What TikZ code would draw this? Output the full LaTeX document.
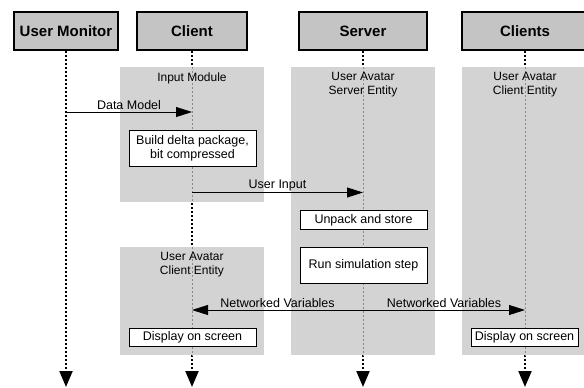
\documentclass[tikz,border=0pt]{standalone}
\usepackage{fontspec}
\setmainfont{Liberation Sans}
\usetikzlibrary{arrows.meta,positioning}
\definecolor{headgray}{HTML}{C4C4C4}
\definecolor{zonegray}{HTML}{D3D3D3}
\definecolor{dotgray} {HTML}{8A8A8A}

\begin{document}
\begin{tikzpicture}[
  head/.style  ={draw,line width=1.8pt,fill=headgray,minimum height=38pt,
                 inner sep=0pt,font=\fontsize{15}{18}\selectfont\bfseries},
  zone/.style  ={fill=zonegray,inner sep=0pt},
  ztxt/.style  ={anchor=north,yshift=-2pt,align=center,
                 font=\fontsize{12}{13.5}\selectfont},
  act/.style   ={draw,fill=white,line width=0.7pt,align=center,inner sep=1pt,
                 font=\fontsize{12.5}{14}\selectfont},
  life/.style  ={line width=2pt,dash pattern=on 2pt off 2pt,
                 -{Triangle[width=13pt,length=16pt]}},
  lifein/.style={dotgray,line width=1pt,dash pattern=on 2pt off 2pt},
  msg/.style   ={line width=0.8pt,-{Triangle[width=10pt,length=16pt]}},
  mlbl/.style  ={above,inner sep=1.5pt,font=\fontsize{12.5}{14}\selectfont},
  x=1pt, y=-1pt
]
\useasboundingbox (0,0) rectangle (584,388);

%% lifeline heads (x = 66 / 192 / 363 / 525)
\node[head,minimum width=104pt] (um) at (66, 31)  {User Monitor};
\node[head,minimum width=110pt] (cl) at (192,31)  {Client};
\node[head,minimum width=128pt] (sv) at (363,31)  {Server};
\node[head,minimum width=126pt] (cs) at (525,31)  {Clients};

%% lifeline ends
\coordinate (umE) at (66, 387);
\coordinate (clE) at (192,387);
\coordinate (svE) at (363,387);
\coordinate (csE) at (525,387);

\draw[life] (um.south) -- (umE);
\draw[life] (cl.south) -- (clE);
\draw[life] (sv.south) -- (svE);
\draw[life] (cs.south) -- (csE);

%% gray zones
\node[zone,minimum width=144pt,minimum height=135pt] (inmod) at (192,134.5)
  {};
\node[zone,minimum width=144pt,minimum height=108pt] (avcl)  at (192,301)
  {};
\node[zone,minimum width=144pt,minimum height=288pt] (avsv)  at (363,211)
  {};
\node[zone,minimum width=126pt,minimum height=288pt] (avcs)  at (525,211)
  {};

\foreach \z in {inmod,avcl,avsv,avcs}
  \draw[lifein] (\z.north) -- (\z.south);

\node[ztxt] at (inmod.north) {Input Module};
\node[ztxt] at (avcl.north)  {User Avatar\\Client Entity};
\node[ztxt] at (avsv.north)  {User Avatar\\Server Entity};
\node[ztxt] at (avcs.north)  {User Avatar\\Client Entity};

%% activity boxes
\node[act,minimum width=127pt,minimum height=36pt] (bd)  at (192.5,148)
  {Build delta package,\\bit compressed};
\node[act,minimum width=127pt,minimum height=18.5pt] (up) at (363.5,220)
  {Unpack and store};
\node[act,minimum width=127pt,minimum height=36pt] (rs)  at (363.5,265)
  {Run simulation step};
\node[act,minimum width=127pt,minimum height=18pt] (ds1) at (192.5,337)
  {Display on screen};
\node[act,minimum width=107pt,minimum height=18pt] (ds2) at (524.5,337)
  {Display on screen};

%% message points on the lifelines
\coordinate (dmA) at (66, 112);
\coordinate (dmB) at (192,112);
\coordinate (uiA) at (192,192.5);
\coordinate (uiB) at (363,192.5);
\coordinate (nvC) at (192,310);
\coordinate (nvS) at (363,310);
\coordinate (nvR) at (525,310);

%% messages
\draw[msg] (dmA) -- node[mlbl]{Data Model}          (dmB);
\draw[msg] (uiA) -- node[mlbl]{User Input}          (uiB);
\draw[msg] (nvS) -- node[mlbl]{Networked Variables} (nvC);
\draw[msg] (nvS) -- node[mlbl]{Networked Variables} (nvR);

\end{tikzpicture}
\end{document}
